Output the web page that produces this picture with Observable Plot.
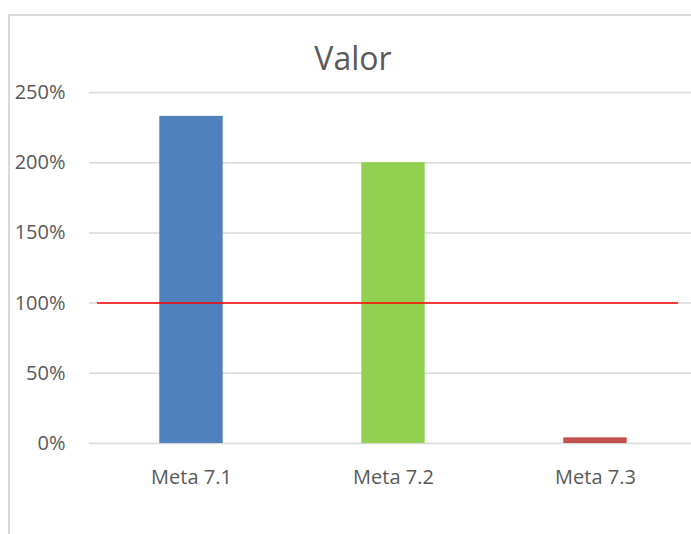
<!DOCTYPE html>
<html>
<head>
<meta charset="utf-8">
<script src="https://cdn.jsdelivr.net/npm/d3@7"></script>
<script src="https://cdn.jsdelivr.net/npm/@observablehq/plot@0.6"></script>
<style>
  html, body { margin: 0; padding: 0; background: #fff; overflow: hidden; width: 691px; height: 534px; }
  #frame { position: absolute; left: 8px; top: 14px; width: 700px; height: 540px;
           border-left: 2px solid #d9d9d9; border-top: 2px solid #d9d9d9; box-sizing: border-box; }
  #title { position: absolute; left: 8px; width: 690px; top: 36px; text-align: center;
           font-family: "Open Sans", sans-serif; font-size: 32px; color: #595959; line-height: 44px; }
  #chart { position: absolute; left: 0; top: 0; }
</style>
</head>
<body>
<div id="frame"></div>
<div id="chart"></div>
<div id="title">Valor</div>
<script>
const categories = ["Meta 7.1", "Meta 7.2", "Meta 7.3"];
const values = [233, 200, 4];
const barColors = ["#4F81BD", "#92D050", "#C0504D"];
const yTicks = [0, 50, 100, 150, 200, 250];
const targetValue = [100];

const data = categories.map((c, i) => ({category: c, value: values[i], color: barColors[i]}));

const chart = Plot.plot({
  width: 691,
  height: 534,
  marginLeft: 89,
  marginRight: -6,
  marginTop: 92,
  marginBottom: 91,
  style: {fontFamily: "'Open Sans', sans-serif", fontSize: "20px", color: "#595959", background: "transparent", overflow: "visible"},
  x: {domain: categories, padding: 0, label: null},
  y: {domain: [0, 250], label: null},
  marks: [
    Plot.ruleY(yTicks, {stroke: "#d9d9d9", strokeWidth: 1.5}),
    Plot.barY(data, {x: "category", y: "value", fill: "color", insetLeft: 69.3, insetRight: 69.3}),
    Plot.ruleY(targetValue, {stroke: "#ff0000", strokeWidth: 1.5, insetLeft: 8, insetRight: 19}),
    Plot.axisY({ticks: yTicks, tickSize: 0, tickPadding: 24, tickFormat: d => d + "%", fill: "#595959", fontSize: 20}),
    Plot.axisX({tickSize: 0, tickPadding: 26, fill: "#595959", fontSize: 20})
  ]
});
document.getElementById("chart").appendChild(chart);
</script>
</body>
</html>
